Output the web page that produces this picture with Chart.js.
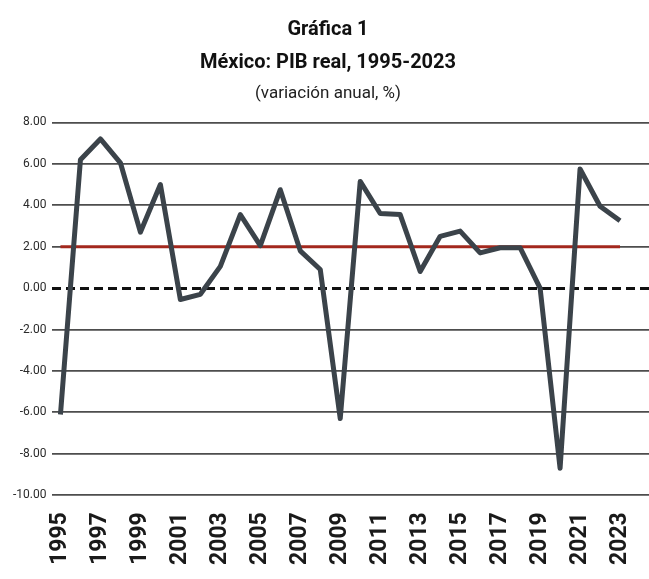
<!DOCTYPE html>
<html>
<head>
<meta charset="utf-8">
<script src="https://cdn.jsdelivr.net/npm/chart.js@4"></script>
<style>
  html, body { margin: 0; padding: 0; background: #fff; }
  #wrap { width: 649px; height: 579px; }
</style>
</head>
<body>
<div id="wrap"><canvas id="pib"></canvas></div>
<script>
// Mexico real GDP, annual % change
const years = [1995, 1996, 1997, 1998, 1999, 2000, 2001, 2002, 2003, 2004,
  2005, 2006, 2007, 2008, 2009, 2010, 2011, 2012, 2013, 2014,
  2015, 2016, 2017, 2018, 2019, 2020, 2021, 2022, 2023];
const pibReal = [-6.1, 6.2, 7.2, 6.05, 2.7, 5.0, -0.55, -0.3, 1.05, 3.55,
  2.05, 4.75, 1.8, 0.9, -6.3, 5.15, 3.6, 3.55, 0.8, 2.5,
  2.75, 1.7, 1.95, 1.95, 0.0, -8.7, 5.75, 3.95, 3.25];
const meta = 2;   // red reference line
const yearTicks = [1995, 1997, 1999, 2001, 2003, 2005, 2007, 2009, 2011,
  2013, 2015, 2017, 2019, 2021, 2023];
const yTicks = [8, 6, 4, 2, 0, -2, -4, -6, -8, -10];

const FONT = "'Roboto', 'Liberation Sans', sans-serif";

const whiteBg = {
  id: 'whiteBg',
  beforeDraw(chart) {
    const ctx = chart.ctx;
    ctx.save();
    ctx.fillStyle = '#fff';
    ctx.fillRect(0, 0, chart.width, chart.height);
    ctx.restore();
  }
};

const canvas = document.getElementById('pib');
new Chart(canvas, {
  type: 'line',
  data: {
    datasets: [
      {
        label: 'PIB real',
        data: years.map((y, i) => ({ x: y, y: pibReal[i] })),
        borderColor: '#3b434a',
        borderWidth: 5,
        pointRadius: 0,
        tension: 0,
        borderJoinStyle: 'round',
        order: 1
      },
      {
        label: 'Meta',
        data: [years[0], years[years.length - 1]].map(y => ({ x: y, y: meta })),
        borderColor: '#a3281d',
        borderWidth: 3,
        pointRadius: 0,
        order: 2
      }
    ]
  },
  options: {
    responsive: true,
    maintainAspectRatio: false,
    animation: false,
    layout: { padding: { left: 7, right: 0, top: 0, bottom: 5 } },
    plugins: {
      legend: { display: false },
      tooltip: { enabled: false },
      title: {
        display: true,
        text: ['Gráfica 1', 'México: PIB real, 1995-2023'],
        color: '#111',
        font: { family: FONT, size: 20, weight: 'bold', lineHeight: 1.65 },
        padding: { top: 13, bottom: 4 }
      },
      subtitle: {
        display: true,
        text: '(variación anual, %)',
        color: '#222',
        font: { family: FONT, size: 17, lineHeight: 1.2 },
        padding: { top: 1, bottom: 18 }
      }
    },
    scales: {
      x: {
        type: 'linear',
        min: 1994.6,
        max: 2024.45,
        afterBuildTicks(axis) {
          axis.ticks = yearTicks.map(v => ({ value: v }));
        },
        afterFit(axis) {
          // let the grid run to the canvas edge
          axis.paddingLeft = 0;
          axis.paddingRight = 0;
        },
        grid: { display: false },
        border: { display: false },
        ticks: {
          autoSkip: false,
          maxRotation: 90,
          minRotation: 90,
          padding: 9,
          color: '#1a1a1a',
          font: { family: FONT, size: 23, weight: 'bold' },
          callback: v => String(v)
        }
      },
      y: {
        min: -10,
        max: 8,
        afterBuildTicks(axis) {
          axis.ticks = yTicks.map(v => ({ value: v }));
        },
        border: {
          display: false,
          dash: ctx => (ctx.tick && ctx.tick.value === 0 ? [9, 5] : [])
        },
        grid: {
          drawTicks: false,
          color: ctx => (ctx.tick && ctx.tick.value === 0 ? '#111' : '#4d4d4d'),
          lineWidth: ctx => (ctx.tick && ctx.tick.value === 0 ? 3 : 1.8)
        },
        ticks: {
          padding: 6,
          color: '#2a2a2a',
          font: { family: FONT, size: 12 },
          callback: v => v.toFixed(2)
        }
      }
    }
  },
  plugins: [whiteBg]
});
</script>
</body>
</html>
